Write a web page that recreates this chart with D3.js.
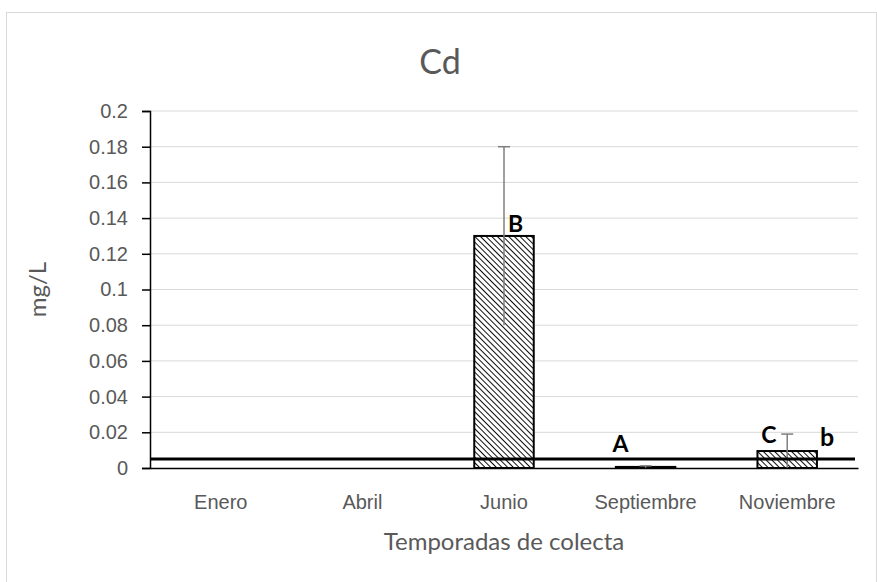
<!DOCTYPE html>
<html>
<head>
<meta charset="utf-8">
<script src="https://cdn.jsdelivr.net/npm/d3@7"></script>
<style>
  body { margin: 0; background: #fff; }
  svg { font-family: Lato, "Open Sans", sans-serif; }
</style>
</head>
<body>
<svg id="chart"></svg>
<script>
const months = ["Enero", "Abril", "Junio", "Septiembre", "Noviembre"];
const means = [0, 0, 0.13, 0.0006, 0.0095];
const errors = [0, 0, 0.05, 0.0006, 0.0095];
const letters = [null, null, "B", "A", "C"];
const yTicks = [0, 0.02, 0.04, 0.06, 0.08, 0.1, 0.12, 0.14, 0.16, 0.18, 0.2];
const limitValue = 0.005;
const limitLabel = "b";

const w = 877;
const h = 582;
const m = { top: 111, right: 19, bottom: 114, left: 150 };

const svg = d3.select("#chart").attr("width", w).attr("height", h);

// outer chart border
svg.append("rect")
  .attr("x", 6.5).attr("y", 12.5)
  .attr("width", w - 7).attr("height", h - 12)
  .attr("fill", "#fff")
  .attr("stroke", "#d9d9d9");

const defs = svg.append("defs");
const pat = defs.append("pattern")
  .attr("id", "hatch")
  .attr("patternUnits", "userSpaceOnUse")
  .attr("width", 4).attr("height", 4)
  .attr("patternTransform", "rotate(-45)");
pat.append("rect").attr("width", 4).attr("height", 4).attr("fill", "#fff");
pat.append("line")
  .attr("x1", 0).attr("y1", 0).attr("x2", 0).attr("y2", 4)
  .attr("stroke", "#000").attr("stroke-width", 1.9);

const x = d3.scaleBand()
  .domain(months)
  .range([m.left, w - m.right])
  .paddingInner(0.58)
  .paddingOuter(0.29);

const y = d3.scaleLinear()
  .domain([0, 0.2])
  .range([h - m.bottom, m.top]);

// gridlines
svg.append("g")
  .selectAll("line")
  .data(yTicks.slice(1))
  .enter()
  .append("line")
  .attr("x1", m.left).attr("x2", w - m.right)
  .attr("y1", d => y(d)).attr("y2", d => y(d))
  .attr("stroke", "#d9d9d9")
  .attr("stroke-width", 1);

// bars
svg.append("g")
  .selectAll("rect")
  .data(months)
  .enter()
  .append("rect")
  .attr("x", d => x(d))
  .attr("y", (d, i) => y(means[i]))
  .attr("width", x.bandwidth())
  .attr("height", (d, i) => y(0) - y(means[i]))
  .attr("fill", "url(#hatch)")
  .attr("stroke", (d, i) => means[i] > 0 ? "#000" : "none")
  .attr("stroke-width", 2);

// error bars
const eb = svg.append("g").attr("stroke", "#7f7f7f").attr("stroke-width", 1.5);
months.forEach((mo, i) => {
  if (!errors[i]) return;
  const cx = x(mo) + x.bandwidth() / 2;
  eb.append("line")
    .attr("x1", cx).attr("x2", cx)
    .attr("y1", y(Math.max(0, means[i] - errors[i])))
    .attr("y2", y(means[i] + errors[i]));
  eb.append("line")
    .attr("x1", cx - 6).attr("x2", cx + 6)
    .attr("y1", y(means[i] + errors[i]))
    .attr("y2", y(means[i] + errors[i]));
});

// y axis
const yAxis = svg.append("g")
  .attr("transform", `translate(${m.left},0)`)
  .call(d3.axisLeft(y).tickValues(yTicks).tickSize(8).tickPadding(14).tickFormat(d => String(+d.toFixed(2))));
yAxis.select(".domain").attr("stroke", "#000").attr("stroke-width", 1.5);
yAxis.selectAll(".tick line").attr("stroke", "#000").attr("stroke-width", 1.5);
yAxis.selectAll(".tick text").attr("fill", "#595959").style("font-size", "20px");

// x axis
const xAxis = svg.append("g")
  .attr("transform", `translate(0,${y(0)})`)
  .call(d3.axisBottom(x).tickSize(0).tickPadding(27));
xAxis.select(".domain").attr("stroke", "#000").attr("stroke-width", 1.5);
xAxis.selectAll(".tick text").attr("fill", "#595959").style("font-size", "20px");

// limit line
svg.append("line")
  .attr("x1", m.left).attr("x2", w - m.right - 3)
  .attr("y1", y(limitValue)).attr("y2", y(limitValue))
  .attr("stroke", "#000").attr("stroke-width", 3);

// significance letters
const letterDx = [0, 0, 4, -33, -26];
const letterDy = [0, 0, -4, -7, -16];
svg.append("g")
  .selectAll("text")
  .data(months)
  .enter()
  .filter((d, i) => letters[i])
  .append("text")
  .attr("x", d => x(d) + x.bandwidth() / 2 + letterDx[months.indexOf(d)])
  .attr("y", d => {
    const i = months.indexOf(d);
    return i === 2 ? y(means[i]) + letterDy[i] : y(limitValue) + letterDy[i];
  })
  .attr("font-weight", "bold")
  .attr("font-size", "23px")
  .attr("fill", "#000")
  .text(d => letters[months.indexOf(d)]);

svg.append("text")
  .attr("x", x("Noviembre") + x.bandwidth() + 3)
  .attr("y", y(limitValue) - 13)
  .attr("font-weight", "bold")
  .attr("font-size", "25px")
  .attr("fill", "#000")
  .text(limitLabel);

// titles
svg.append("text")
  .attr("x", 440).attr("y", 74)
  .attr("text-anchor", "middle")
  .attr("fill", "#595959")
  .attr("font-size", "34px")
  .text("Cd");

svg.append("text")
  .attr("x", 504).attr("y", 550)
  .attr("text-anchor", "middle")
  .attr("fill", "#595959")
  .attr("font-size", "24px")
  .text("Temporadas de colecta");

svg.append("text")
  .attr("transform", `translate(46,${(y(0) + y(0.2)) / 2}) rotate(-90)`)
  .attr("text-anchor", "middle")
  .attr("fill", "#595959")
  .attr("font-size", "24px")
  .text("mg/L");
</script>
</body>
</html>
